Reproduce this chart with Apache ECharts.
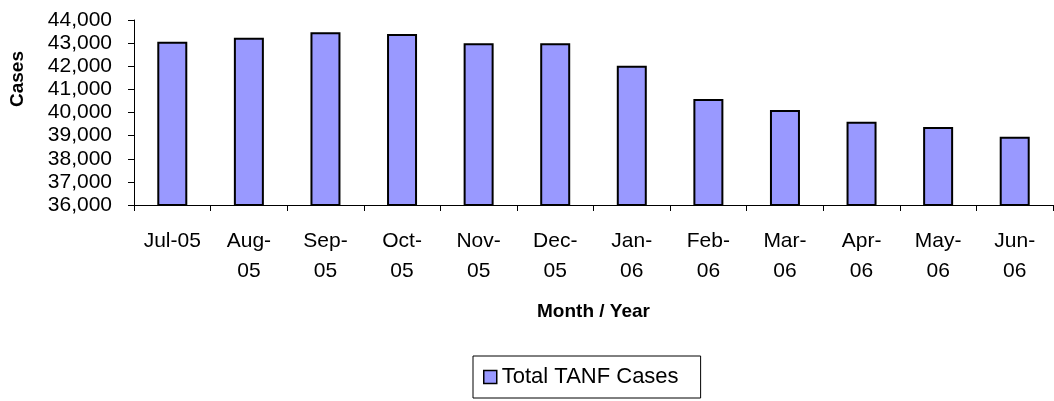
<!DOCTYPE html>
<html>
<head>
<meta charset="utf-8">
<script src="https://cdn.jsdelivr.net/npm/echarts@6/dist/echarts.min.js"></script>
<style>
  html, body { margin: 0; padding: 0; background: #fff; }
  #chart { width: 1054px; height: 401px; }
</style>
</head>
<body>
<div id="chart"></div>
<script>
  // months on the x axis, and how they are printed (wrapped like the original)
  var months = ['Jul-05', 'Aug-05', 'Sep-05', 'Oct-05', 'Nov-05', 'Dec-05',
                'Jan-06', 'Feb-06', 'Mar-06', 'Apr-06', 'May-06', 'Jun-06'];
  var monthLabels = ['Jul-05', 'Aug-\n05', 'Sep-\n05', 'Oct-\n05', 'Nov-\n05', 'Dec-\n05',
                     'Jan-\n06', 'Feb-\n06', 'Mar-\n06', 'Apr-\n06', 'May-\n06', 'Jun-\n06'];
  // total TANF cases per month
  var tanfCases = [43060, 43230, 43470, 43390, 42990, 42990,
                   42020, 40580, 40110, 39600, 39370, 38950];
  var yMin = 36000, yMax = 44000, yStep = 1000;

  var font = 'Arial, "Liberation Sans", sans-serif';
  var chart = echarts.init(document.getElementById('chart'));

  chart.setOption({
    animation: false,
    textStyle: { fontFamily: font, color: '#000' },
    grid: { left: 134, right: 1, top: 20, bottom: 196, containLabel: false },
    legend: {
      data: ['Total TANF Cases'],
      left: 473,
      top: 356,
      padding: [10, 22, 10, 10],
      borderColor: '#000',
      borderWidth: 1,
      itemWidth: 13,
      itemHeight: 13,
      icon: 'rect',
      itemStyle: { borderColor: '#000', borderWidth: 1.5 },
      textStyle: { fontFamily: font, fontSize: 22, color: '#000' }
    },
    xAxis: {
      type: 'category',
      data: months,
      name: 'Month / Year',
      nameLocation: 'middle',
      nameGap: 97,
      nameTextStyle: { fontFamily: font, fontSize: 19, fontWeight: 'bold', color: '#000' },
      axisLine: { lineStyle: { color: '#000', width: 1 } },
      axisTick: { show: true, length: 6, lineStyle: { color: '#000' } },
      axisLabel: {
        interval: 0,
        margin: 21,
        fontSize: 21,
        lineHeight: 30,
        color: '#000',
        formatter: function (value, idx) { return monthLabels[idx]; }
      }
    },
    yAxis: {
      type: 'value',
      min: yMin,
      max: yMax,
      interval: yStep,
      axisLine: { show: true, lineStyle: { color: '#000', width: 1 } },
      axisTick: { show: true, length: 6, lineStyle: { color: '#000' } },
      splitLine: { show: false },
      axisLabel: {
        margin: 22,
        fontSize: 21,
        color: '#000',
        formatter: function (v) { return v.toLocaleString('en-US'); }
      }
    },
    graphic: [{
      type: 'text',
      x: 18,
      y: 79,
      rotation: Math.PI / 2,
      style: {
        text: 'Cases',
        align: 'center',
        verticalAlign: 'middle',
        font: 'bold 19px ' + font,
        fill: '#000'
      }
    }],
    series: [{
      name: 'Total TANF Cases',
      type: 'bar',
      data: tanfCases,
      barWidth: 30,
      itemStyle: { color: '#9999FF', borderColor: '#000', borderWidth: 2 }
    }]
  });
</script>
</body>
</html>
